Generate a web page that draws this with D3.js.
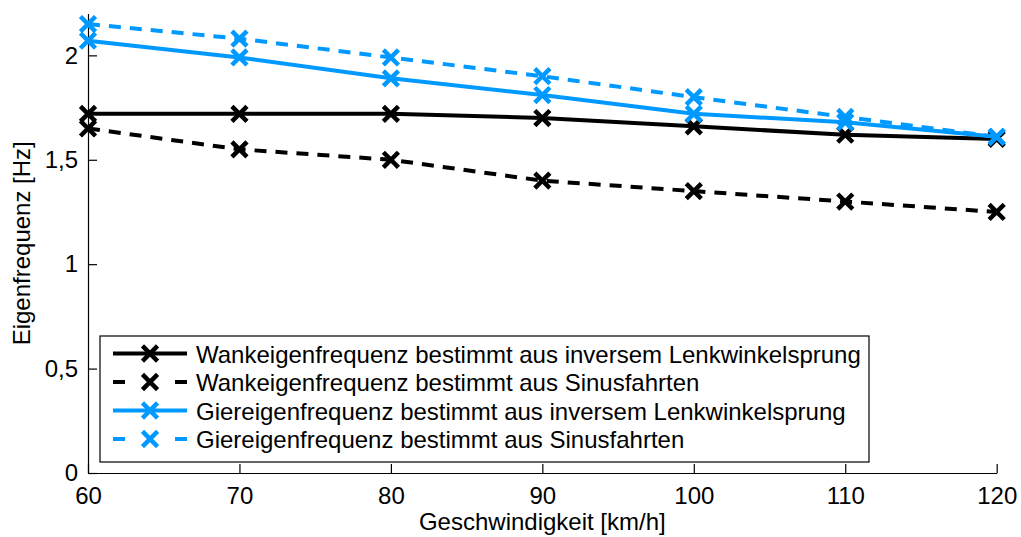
<!DOCTYPE html>
<html>
<head>
<meta charset="utf-8">
<script src="https://cdn.jsdelivr.net/npm/d3@7"></script>
<style>
  body { margin: 0; background: #fff; }
  text { font-family: "Liberation Sans", Arial, sans-serif; }
</style>
</head>
<body>
<div id="chart"></div>
<script>
var width = 1021
var height = 537
var margin = {top: 13.6, right: 24.3, bottom: 64, left: 88}

// data
var speeds = [60, 70, 80, 90, 100, 110, 120]
var wankInvers = [1.72, 1.72, 1.72, 1.70, 1.66, 1.62, 1.60]
var wankSinus = [1.65, 1.55, 1.50, 1.40, 1.35, 1.30, 1.25]
var gierInvers = [2.07, 1.99, 1.89, 1.81, 1.72, 1.68, 1.61]
var gierSinus = [2.15, 2.08, 1.99, 1.90, 1.80, 1.705, 1.61]
var yTicks = [0, 0.5, 1, 1.5, 2]
var seriesNames = [
  "Wankeigenfrequenz bestimmt aus inversem Lenkwinkelsprung",
  "Wankeigenfrequenz bestimmt aus Sinusfahrten",
  "Giereigenfrequenz bestimmt aus inversem Lenkwinkelsprung",
  "Giereigenfrequenz bestimmt aus Sinusfahrten"
]

var blue = "#0099ff"
var fontSize = 24
var series = [
  {name: seriesNames[0], values: wankInvers, color: "black", dash: null},
  {name: seriesNames[1], values: wankSinus, color: "black", dash: "12,9"},
  {name: seriesNames[2], values: gierInvers, color: blue, dash: null},
  {name: seriesNames[3], values: gierSinus, color: blue, dash: "12,9"}
]

var svg = d3.select("#chart").append("svg")
    .attr("width", width)
    .attr("height", height)

var x = d3.scaleLinear().domain([60, 120]).range([margin.left, width - margin.right])
var y = d3.scaleLinear().domain([0, 2.2]).range([height - margin.bottom, margin.top])

var fmt = function(d) { return String(d).replace(".", ","); }

// axes, ticks pointing inwards
svg.append("g")
    .attr("transform", "translate(0," + y(0) + ")")
    .call(d3.axisBottom(x).tickValues(speeds).tickSizeInner(-9).tickSizeOuter(0).tickPadding(14))
svg.append("g")
    .attr("transform", "translate(" + x(60) + ",0)")
    .call(d3.axisLeft(y).tickValues(yTicks).tickFormat(fmt).tickSizeInner(-9).tickSizeOuter(0).tickPadding(10))

svg.selectAll(".domain, .tick line").attr("stroke", "black").attr("stroke-width", 1.2)
svg.selectAll(".tick text")
    .attr("font-family", "Liberation Sans, Arial, sans-serif")
    .attr("font-size", fontSize)
    .attr("fill", "black")

svg.append("text")
    .attr("x", x(90))
    .attr("y", 530)
    .attr("text-anchor", "middle")
    .attr("font-size", fontSize)
    .text("Geschwindigkeit [km/h]")

svg.append("text")
    .attr("transform", "translate(30," + y(1.1) + ") rotate(-90)")
    .attr("text-anchor", "middle")
    .attr("font-size", fontSize)
    .text("Eigenfrequenz [Hz]")

var line = d3.line()
    .x(function(d, i) { return x(speeds[i]); })
    .y(function(d) { return y(d); })

var marker = d3.symbol().type(d3.symbolX).size(150)

series.forEach(function(s) {
  svg.append("path")
      .attr("d", line(s.values))
      .attr("fill", "none")
      .attr("stroke", s.color)
      .attr("stroke-width", 4)
      .attr("stroke-dasharray", s.dash)

  svg.selectAll(null)
      .data(s.values)
      .enter()
      .append("path")
      .attr("d", marker)
      .attr("transform", function(d, i) { return "translate(" + x(speeds[i]) + "," + y(d) + ")"; })
      .attr("fill", "none")
      .attr("stroke", s.color)
      .attr("stroke-width", 4.5)
})

// legend
var legend = svg.append("g").attr("transform", "translate(100,336)")
legend.append("rect")
    .attr("width", 769)
    .attr("height", 126)
    .attr("fill", "white")
    .attr("stroke", "black")
    .attr("stroke-width", 1.2)

var rows = legend.selectAll("g.row")
    .data(series)
    .enter()
    .append("g")
    .attr("class", "row")
    .attr("transform", function(d, i) { return "translate(0," + (17.5 + i * 28.5) + ")"; })

rows.append("line")
    .attr("x1", 13).attr("x2", 87)
    .attr("stroke", function(d) { return d.color; })
    .attr("stroke-width", 4)
    .attr("stroke-dasharray", function(d) { return d.dash ? "12,50" : null; })

rows.append("path")
    .attr("d", marker)
    .attr("transform", "translate(50,0)")
    .attr("fill", "none")
    .attr("stroke", function(d) { return d.color; })
    .attr("stroke-width", 4.5)

rows.append("text")
    .attr("x", 96)
    .attr("y", 9)
    .attr("font-size", fontSize)
    .text(function(d) { return d.name; })
</script>
</body>
</html>
